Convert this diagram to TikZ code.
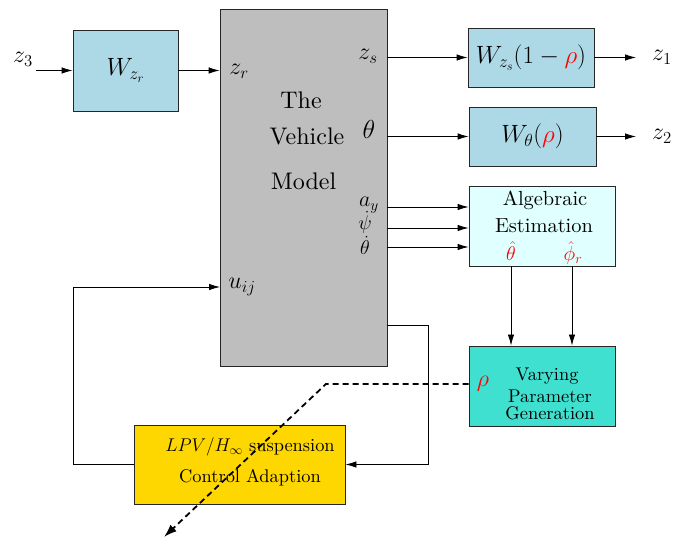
\RequirePackage{fix-cm}
\documentclass[tikz,border=0pt]{standalone}
\usepackage{amsmath}
\usepackage{amssymb}
\usepackage{fontspec}
\setmainfont{lmroman10-regular.otf}[ItalicFont=lmroman10-italic.otf,BoldFont=lmroman10-bold.otf]
\usetikzlibrary{arrows.meta,positioning}
\definecolor{wblue}{RGB}{173,216,230}
\definecolor{vgray}{RGB}{190,190,190}
\definecolor{acyan}{RGB}{224,255,255}
\definecolor{pturq}{RGB}{64,224,208}
\definecolor{cgold}{RGB}{255,215,0}
\def\wfont{\fontsize{25}{30}\selectfont}
\def\bfont{\fontsize{18.4}{22}\selectfont}
\tikzset{
	blk/.style={draw=black!85,line width=0.8pt,inner sep=0pt},
	port/.style={anchor=base,inner sep=0pt,font=\fontsize{24}{28}\selectfont},
	lbl/.style={anchor=base,inner sep=0pt},
	arr/.style={-{Latex[length=11pt,width=6.5pt]},line width=0.8pt},
	rhoarr/.style={-{Latex[length=13pt,width=9pt]},line width=1.8pt,dash pattern=on 6pt off 4pt},
}

\begin{document}
\begin{tikzpicture}[x=1pt,y=-1pt]
			\useasboundingbox (0,0) rectangle (689,537);
			% blocks
			\node[blk,fill=wblue,minimum width=105pt,minimum height=81pt,font=\wfont] (wzr) at (125.5,70.5) {$W_{z_r}$};
			\node[blk,fill=vgray,minimum width=167pt,minimum height=357pt] (veh) at (303.5,187.5) {};
			\node[blk,fill=wblue,minimum width=126pt,minimum height=59pt,font=\wfont] (wzs) at (531,57.5) {$W_{z_s}(1-{\color{red}\rho})$};
			\node[blk,fill=wblue,minimum width=127pt,minimum height=59pt,font=\wfont] (wth) at (532.5,136.5) {$W_\theta({\color{red}\rho})$};
			\node[blk,fill=acyan,minimum width=146pt,minimum height=80pt] (alg) at (542,226) {};
			\node[blk,fill=pturq,minimum width=146pt,minimum height=80pt] (vpg) at (542,386) {};
			\node[blk,fill=cgold,minimum width=211pt,minimum height=79pt] (ctrl) at (239.5,464.5) {};
			% texts
			\node[lbl,font=\fontsize{24}{28}\selectfont] (vthe) at (301,109) {The};
			\node[lbl,font=\fontsize{24}{28}\selectfont] (vveh) at (307,145) {Vehicle};
			\node[lbl,font=\fontsize{24}{28}\selectfont] (vmod) at (303.5,190) {Model};
			\node[lbl,font=\fontsize{20.4}{24}\selectfont] (alg1) at (545,206) {Algebraic};
			\node[lbl,font=\fontsize{20.4}{24}\selectfont] (alg2) at (544,233) {Estimation};
			\node[lbl,font=\bfont] (vp1) at (547,381) {Varying};
			\node[lbl,font=\bfont] (vp2) at (550,403) {Parameter};
			\node[lbl,font=\bfont] (vp3) at (550,420) {Generation};
			\node[lbl,font=\bfont] (ct1) at (250,452) {$LPV/H_\infty$ suspension};
			\node[lbl,font=\bfont] (ct2) at (250,483) {Control Adaption};
			% ports
			\node[port] (z3) at (23,63) {$z_3$};
			\node[port] (zr) at (239,75) {$z_r$};
			\node[port] (zs) at (368,60) {$z_s$};
			\node[port,font=\fontsize{26}{30}\selectfont] (th) at (369,139) {$\theta$};
			\node[port,font=\fontsize{22}{26}\selectfont] (ay) at (369,207) {$a_y$};
			\node[port,font=\fontsize{20}{24}\selectfont] (psd) at (365,230) {$\dot\psi$};
			\node[port,font=\fontsize{20}{24}\selectfont] (thd) at (365,255) {$\dot\theta$};
			\node[port] (uij) at (242,289) {$u_{ij}$};
			\node[port] (z1) at (662,61) {$z_1$};
			\node[port] (z2) at (662,140) {$z_2$};
			\node[port,text=red] (rho) at (483,387) {$\rho$};
			\node[port,text=red,font=\fontsize{20}{24}\selectfont] (thhat) at (511,261) {$\hat\theta$};
			\node[port,text=red,font=\fontsize{20}{24}\selectfont] (phhat) at (573,261) {$\hat\phi_r$};
			\coordinate (o1) at (636,57.5);
			\coordinate (o2) at (636,136.5);
			\coordinate (say) at (387,207);
			\coordinate (spsd) at (387,228);
			\coordinate (sthd) at (387,247);
			\coordinate (vout) at (387,325);
			\coordinate (uin) at (220,287);
			\coordinate (rbend) at (326,384);
			\coordinate (rend) at (164,537);
			% connectors
			\draw[arr] ([xshift=3pt]z3.east |- wzr.west) -- (wzr.west);
			\draw[arr] (wzr.east) -- (wzr.east -| veh.west);
			\draw[arr] (veh.east |- wzs.west) -- (wzs.west);
			\draw[arr] (veh.east |- wth.west) -- (wth.west);
			\draw[arr] (wzs.east) -- (o1);
			\draw[arr] (wth.east) -- (o2);
			\draw[arr] (say) -- (say -| alg.west);
			\draw[arr] (spsd) -- (spsd -| alg.west);
			\draw[arr] (sthd) -- (sthd -| alg.west);
			\draw[arr] (alg.south -| thhat) -- (vpg.north -| thhat);
			\draw[arr] ([xshift=-1pt]alg.south -| phhat) -- ([xshift=-1pt]vpg.north -| phhat);
			\draw[arr] (vout) -- ++(41,0) |- (ctrl.east);
			\draw[arr] (ctrl.west) -- ++(-60,0) |- (uin);
			\draw[rhoarr] (vpg.west |- rbend) -- (rbend) -- (rend);
		\end{tikzpicture}
\end{document}
